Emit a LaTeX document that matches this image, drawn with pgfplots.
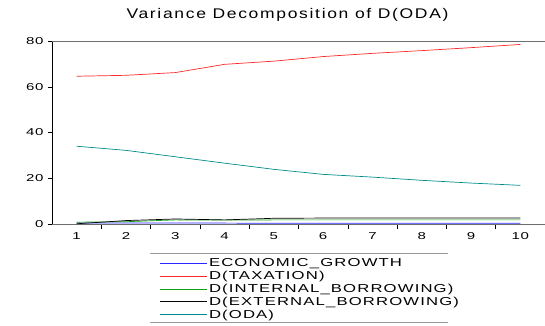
\documentclass[border=0pt]{standalone}
\usepackage{pgfplots}
\pgfplotsset{compat=1.18}
\usepackage{fontspec}
\setmainfont{Liberation Sans}
% wide, spaced sans faces used throughout the chart
\newfontfamily\titlefont[FakeStretch=1.25, LetterSpace=12]{Liberation Sans}
\newfontfamily\legfont[FakeStretch=1.45, LetterSpace=10]{Liberation Sans}
\newfontfamily\tickfont[FakeStretch=1.5, LetterSpace=6]{Liberation Sans}

\definecolor{egblue}{RGB}{40,40,255}
\definecolor{taxred}{RGB}{255,40,40}
\definecolor{ibgreen}{RGB}{20,160,20}
\definecolor{odateal}{RGB}{0,140,140}
\definecolor{spine}{RGB}{110,110,110}

\begin{document}
\begin{tikzpicture}
\useasboundingbox (-52pt,-101pt) rectangle (493pt,224pt);
\begin{axis}[
  scale only axis,
  width=493pt, height=183pt,
  xmin=0.5, xmax=10.5,
  ymin=0, ymax=80,
  axis x line*=bottom,
  axis y line*=left,
  x axis line style={spine, line width=1pt},
  y axis line style={black, line width=0.8pt},
  xtick={1,...,10},
  major x tick style={draw=none},
  minor xtick={1.5,2.5,...,9.5},
  minor x tick style={black, line width=0.5pt},
  minor tick length=5pt,
  ytick={0,20,40,60,80},
  major y tick style={black, line width=0.5pt},
  major tick length=4pt,
  tick align=outside,
  tick label style={font=\tickfont\fontsize{10}{12}\selectfont},
  /pgf/number format/assume math mode=true,
  xticklabel style={yshift=-1pt},
  yticklabel style={xshift=-1pt},
  legend cell align=left,
  legend style={
    at={(101/493,-29.5/183)}, anchor=north west,
    draw=none, fill=none,
    font=\legfont\fontsize{11.5}{13}\selectfont,
    row sep=-1.0pt, inner xsep=6pt, inner ysep=3pt,
  },
  legend image code/.code={\draw[#1, line width=0.8pt] (0pt,0pt) -- (47pt,0pt);},
  every axis plot/.append style={line width=0.7pt},
  after end axis/.code={
    \draw[spine, line width=1pt] (rel axis cs:0,1) -- (rel axis cs:1,1);
  },
]
\addplot[egblue] coordinates {(1,0.4) (2,0.4) (3,0.4) (4,0.4) (5,0.3) (6,0.3) (7,0.3) (8,0.3) (9,0.3) (10,0.3)};
\addlegendentry{ECONOMIC\_GROWTH}
\addplot[taxred] coordinates {(1,64.6) (2,65.0) (3,66.2) (4,69.8) (5,71.2) (6,73.2) (7,74.6) (8,75.8) (9,77.1) (10,78.5)};
\addlegendentry{D(TAXATION)}
\addplot[ibgreen] coordinates {(1,0.8) (2,1.0) (3,1.8) (4,1.7) (5,1.8) (6,1.8) (7,1.8) (8,1.8) (9,1.8) (10,1.8)};
\addlegendentry{D(INTERNAL\_BORROWING)}
\addplot[black] coordinates {(1,0.1) (2,1.5) (3,2.2) (4,1.8) (5,2.5) (6,2.6) (7,2.6) (8,2.6) (9,2.6) (10,2.6)};
\addlegendentry{D(EXTERNAL\_BORROWING)}
\addplot[odateal] coordinates {(1,34.0) (2,32.2) (3,29.4) (4,26.6) (5,23.9) (6,21.7) (7,20.5) (8,19.1) (9,17.9) (10,16.9)};
\addlegendentry{D(ODA)}
\end{axis}
\draw[spine!70, line width=0.8pt] (98pt,-29pt) -- (396pt,-29pt);
\draw[spine!70, line width=0.8pt] (98pt,-98pt) -- (396pt,-98pt);
\node[font=\titlefont\fontsize{14}{16}\selectfont] at (235.5pt,209pt) {Variance Decomposition of D(ODA)};
\end{tikzpicture}
\end{document}
